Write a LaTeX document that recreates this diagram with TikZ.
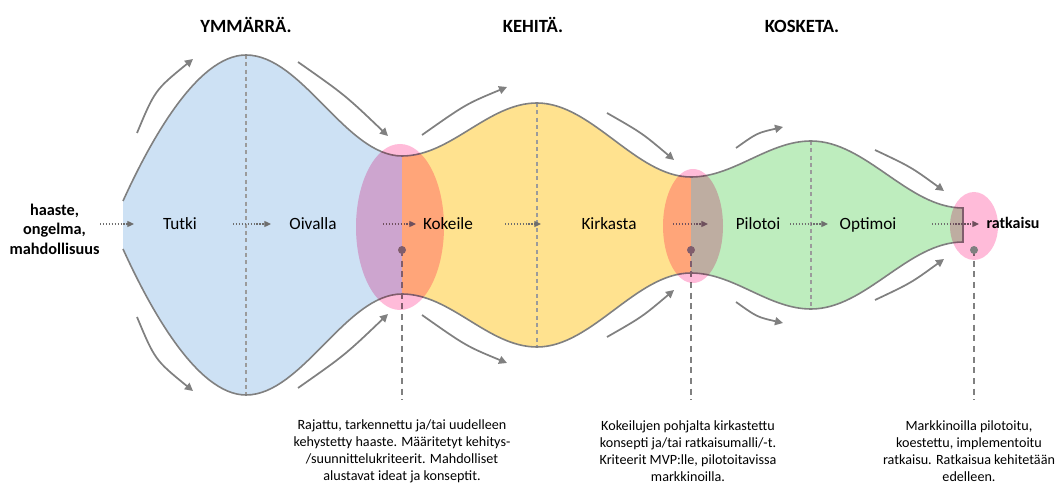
\documentclass[tikz,border=0pt]{standalone}
\usepackage{fontspec}
\setmainfont{Carlito}
\usetikzlibrary{arrows.meta}
\definecolor{shapeblue}{RGB}{205,225,244}
\definecolor{shapeyellow}{RGB}{255,226,143}
\definecolor{shapegreen}{RGB}{190,237,190}
\definecolor{ovalpink}{RGB}{255,187,217}
\definecolor{linegray}{RGB}{128,128,128}
\definecolor{guidegray}{RGB}{155,155,155}
\definecolor{arrowgray}{RGB}{110,110,110}
\begin{document}
\begin{tikzpicture}[x=0.75pt,y=-0.75pt,
  outline/.style={draw=linegray, line width=1.2pt},
  midguide/.style={draw=guidegray, line width=0.9pt, dash pattern=on 3pt off 2.5pt},
  dropline/.style={draw=linegray, line width=1.1pt, dash pattern=on 4.5pt off 3.5pt},
  flow/.style={draw=linegray, line width=1.3pt, -{Triangle[length=6pt,width=6pt]}},
  stepflow/.style={draw=arrowgray, line width=0.9pt, dash pattern=on 1pt off 1.2pt, -{Triangle[length=5pt,width=4.5pt]}},
  oval/.style={fill=ovalpink, blend mode=multiply},
  marker/.style={fill=linegray},
  phase/.style={font=\fontsize{12.9}{15}\selectfont, anchor=base, inner sep=0pt},
  heading/.style={font=\fontsize{14}{16}\bfseries\selectfont, anchor=base, inner sep=0pt},
  endpoint/.style={font=\fontsize{12.2}{14.6}\bfseries\selectfont, align=center, inner sep=0pt},
  outcome/.style={font=\fontsize{10.6}{12.7}\selectfont, align=center, inner sep=0pt}
]
\useasboundingbox (0,0) rectangle (1056,484);

% funnel outline points (top curve; the bottom curve mirrors it)
\coordinate (t0) at (123,201);
\coordinate (p1) at (246,55);
\coordinate (m1) at (402,156);
\coordinate (p2) at (537,103);
\coordinate (m2) at (691,177);
\coordinate (p3) at (811,141);
\coordinate (te) at (963,208);
\coordinate (b0) at (123,249);
\coordinate (q1) at (246,395);
\coordinate (n1) at (402,294);
\coordinate (q2) at (537,347);
\coordinate (n2) at (691,273);
\coordinate (q3) at (811,309);
\coordinate (be) at (963,242);

% coloured phases
\fill[shapeblue] (t0) .. controls (148,146) and (196,55) .. (p1)
  .. controls (302,55) and (346,156) .. (m1) -- (n1)
  .. controls (346,294) and (302,395) .. (q1)
  .. controls (196,395) and (148,304) .. (b0) -- cycle;
\fill[shapeyellow] (m1) .. controls (451,156) and (488,103) .. (p2)
  .. controls (592,103) and (636,177) .. (m2) -- (n2)
  .. controls (636,273) and (592,347) .. (q2)
  .. controls (488,347) and (451,294) .. (n1) -- cycle;
\fill[shapegreen] (m2) .. controls (734,177) and (768,141) .. (p3)
  .. controls (866,141) and (908,208) .. (te) -- (be)
  .. controls (908,242) and (866,309) .. (q3)
  .. controls (768,309) and (734,273) .. (n2) -- cycle;

% centre guides of each phase
\draw[midguide] (p1) -- (q1);
\draw[midguide] (p2) -- (q2);
\draw[midguide] (p3) -- (q3);

% outline of the funnel
\draw[outline] (t0) .. controls (148,146) and (196,55) .. (p1)
  .. controls (302,55) and (346,156) .. (m1)
  .. controls (451,156) and (488,103) .. (p2)
  .. controls (592,103) and (636,177) .. (m2)
  .. controls (734,177) and (768,141) .. (p3)
  .. controls (866,141) and (908,208) .. (te) -- (be)
  .. controls (908,242) and (866,309) .. (q3)
  .. controls (768,309) and (734,273) .. (n2)
  .. controls (636,273) and (592,347) .. (q2)
  .. controls (488,347) and (451,294) .. (n1)
  .. controls (346,294) and (302,395) .. (q1)
  .. controls (196,395) and (148,304) .. (b0);

% step-to-step dotted arrows
\coordinate (s0a) at (100,224); \coordinate (s0b) at (134,224);
\coordinate (s1a) at (233,224); \coordinate (s1b) at (271,224);
\coordinate (s2a) at (383,224); \coordinate (s2b) at (416,224);
\coordinate (s3a) at (505,224); \coordinate (s3b) at (541,224);
\coordinate (s4a) at (673,224); \coordinate (s4b) at (708,224);
\coordinate (s5a) at (790,224); \coordinate (s5b) at (828,224);
\coordinate (s6a) at (932,224); \coordinate (s6b) at (979,224);
\foreach \i in {0,...,6} \draw[stepflow] (s\i a) -- (s\i b);

% milestone markers and drop lines
\coordinate (k1) at (402,250); \coordinate (k1e) at (402,400);
\coordinate (k2) at (691,250); \coordinate (k2e) at (691,400);
\coordinate (k3) at (974,250); \coordinate (k3e) at (974,400);
\draw[dropline] (k1) -- (k1e);
\draw[dropline] (k2) -- (k2e);
\draw[dropline] (k3) -- (k3e);
\fill[marker] (k1) circle[radius=4];
\fill[marker] (k2) circle[radius=4];

% milestone ovals
\fill[oval] (400,227) ellipse[x radius=44, y radius=83];
\fill[oval] (693,226) ellipse[x radius=30, y radius=57];
\fill[oval] (974,226) ellipse[x radius=24, y radius=34];
\fill[marker] (k3) circle[radius=4];

% curved flow arrows above
\coordinate (a1s) at (137,133); \coordinate (a1e) at (193,59);
\coordinate (a2s) at (298,62);  \coordinate (a2e) at (388,136);
\coordinate (a3s) at (422,135); \coordinate (a3e) at (507,87);
\coordinate (a4s) at (607,113); \coordinate (a4e) at (674,160);
\coordinate (a5s) at (736,148); \coordinate (a5e) at (783,127);
\coordinate (a6s) at (875,150); \coordinate (a6e) at (944,191);
\draw[flow] (a1s) .. controls (155,90) .. (a1e);
\draw[flow] (a2s) .. controls (345,95) .. (a2e);
\draw[flow] (a3s) .. controls (466,104) .. (a3e);
\draw[flow] (a4s) .. controls (642,133) .. (a4e);
\draw[flow] (a5s) .. controls (757,133) .. (a5e);
\draw[flow] (a6s) .. controls (911,167) .. (a6e);

% curved flow arrows below
\coordinate (c1s) at (137,317); \coordinate (c1e) at (193,391);
\coordinate (c2s) at (298,388); \coordinate (c2e) at (388,314);
\coordinate (c3s) at (422,315); \coordinate (c3e) at (507,363);
\coordinate (c4s) at (607,337); \coordinate (c4e) at (674,290);
\coordinate (c5s) at (736,302); \coordinate (c5e) at (783,323);
\coordinate (c6s) at (875,300); \coordinate (c6e) at (944,259);
\draw[flow] (c1s) .. controls (155,360) .. (c1e);
\draw[flow] (c2s) .. controls (345,355) .. (c2e);
\draw[flow] (c3s) .. controls (466,346) .. (c3e);
\draw[flow] (c4s) .. controls (642,317) .. (c4e);
\draw[flow] (c5s) .. controls (757,317) .. (c5e);
\draw[flow] (c6s) .. controls (911,283) .. (c6e);

% headings
\node[heading] (h1) at (246,33) {YMMÄRRÄ.};
\node[heading] (h2) at (533,33) {KEHITÄ.};
\node[heading] (h3) at (802,33) {KOSKETA.};

% steps
\node[endpoint] (start) at (54.5,229) {haaste,\\ongelma,\\mahdollisuus};
\node[phase] (tutki) at (180,230) {Tutki};
\node[phase] (oivalla) at (313,230) {Oivalla};
\node[phase] (kokeile) at (448,230) {Kokeile};
\node[phase] (kirkasta) at (609,230) {Kirkasta};
\node[phase] (pilotoi) at (758,230) {Pilotoi};
\node[phase] (optimoi) at (868,230) {Optimoi};
\node[font=\fontsize{12}{14}\bfseries\selectfont, anchor=base, inner sep=0pt] (ratkaisu) at (1013,229) {ratkaisu};

% milestone outcomes
\node[outcome] (o1) at (402,451) {Rajattu, tarkennettu ja/tai uudelleen\\kehystetty haaste. Määritetyt kehitys-\\/suunnittelukriteerit. Mahdolliset\\alustavat ideat ja konseptit.};
\node[outcome] (o2) at (688,451) {Kokeilujen pohjalta kirkastettu\\konsepti ja/tai ratkaisumalli/-t.\\Kriteerit MVP:lle, pilotoitavissa\\markkinoilla.};
\node[outcome] (o3) at (969,451) {Markkinoilla pilotoitu,\\koestettu, implementoitu\\ratkaisu. Ratkaisua kehitetään\\edelleen.};
\end{tikzpicture}
\end{document}
